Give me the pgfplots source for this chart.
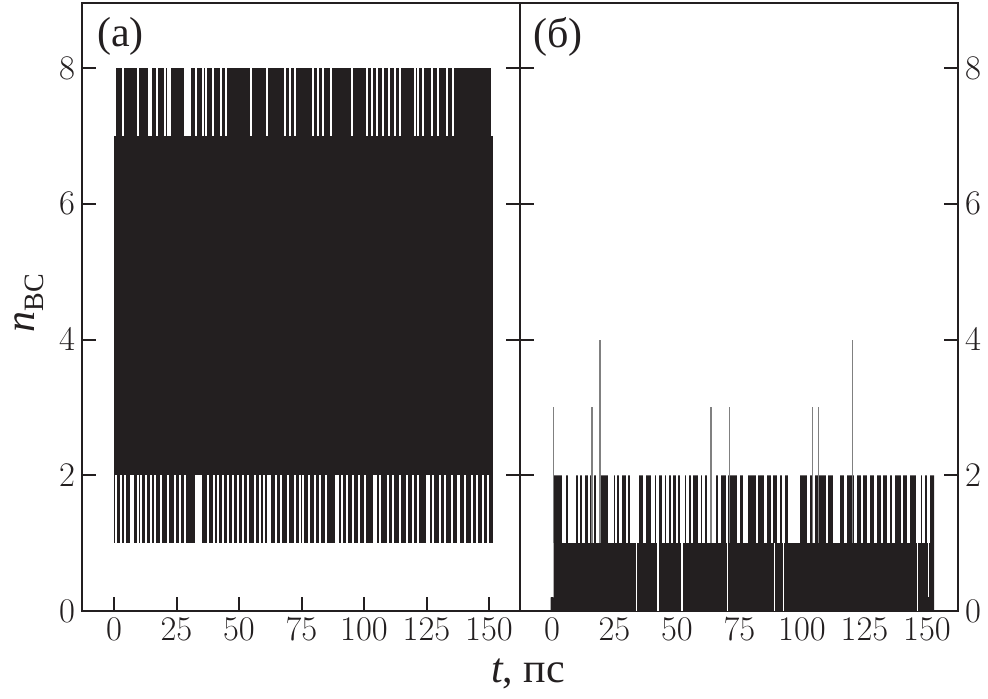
\documentclass[border=0pt]{standalone}
\usepackage{pgfplots}
\pgfplotsset{compat=1.18}
\usepackage{fontspec}
\setmainfont{Liberation Serif}
\definecolor{ink}{RGB}{35,31,32}
\pgfplotsset{
 panel/.style={
  scale only axis, width=219pt, height=304pt,
  xmin=-12.8, xmax=162.4, ymin=0, ymax=8.96,
  xtick={0,25,50,75,100,125,150}, ytick={0,2,4,6,8},
  xtick pos=left, ytick pos=both,
  tick align=inside, major tick length=7pt,
  axis line style={line width=1pt, draw=ink},
  every tick/.style={line width=1pt, draw=ink},
  tick label style={font=\fontsize{18}{20}\selectfont, text=ink},
 },
 gap/.style n args={2}{draw=none, mark=none,
  error bars/.cd, y dir=both, y fixed=#1, error mark=none,
  error bar style={draw=white, line width=#2, solid}},
 spike/.style n args={1}{draw=none, mark=none,
  error bars/.cd, y dir=both, y fixed=#1, error mark=none,
  error bar style={draw=gray, line width=0.6pt, solid}},
}
\begin{document}
\begin{tikzpicture}
\begin{axis}[panel, name=a, yticklabel pos=left]
 % band of n_BC values (dense oscillation between 1 and 8)
 \addplot[fill=ink, draw=none] coordinates {(0,1)(151.6,1)(151.6,8)(0,8)};
 % times at which n_BC does not reach 8
 \addplot[gap={0.5}{1pt}] coordinates {
  (0.5,7.5)(3.6,7.5)(9.6,7.5)(13.9,7.5)(14.7,7.5)(17.3,7.5)(20.3,7.5)(21.6,7.5)(22.5,7.5)
  (28.5,7.5)(29.0,7.5)(29.5,7.5)(30.0,7.5)(30.5,7.5)(32.9,7.5)(35.6,7.5)(36.9,7.5)(39.6,7.5)
  (42.9,7.5)(44.9,7.5)(54.9,7.5)(61.3,7.5)(68.3,7.5)(70.3,7.5)(72.3,7.5)(79.7,7.5)(81.7,7.5)
  (83.5,7.5)(86.7,7.5)(95.1,7.5)(101.1,7.5)(103.1,7.5)(105.1,7.5)(107.7,7.5)(110.1,7.5)
  (112.4,7.5)(114.4,7.5)(120.4,7.5)(121.7,7.5)(123.7,7.5)(127.1,7.5)(129.7,7.5)(133.1,7.5)
  (135.7,7.5)(151.1,7.5)};
 % times at which n_BC does not fall to 1
 \addplot[gap={0.5}{1pt}] coordinates {
  (0.9,1.5)(2.9,1.5)(4.5,1.5)(6.8,1.5)(7.4,1.5)(9.6,1.5)(10.9,1.5)(12.9,1.5)(14.7,1.5)
  (16.3,1.5)(18.9,1.5)(21.6,1.5)(24.3,1.5)(26.3,1.5)(28.3,1.5)(32.8,1.5)(33.4,1.5)(34.0,1.5)
  (34.6,1.5)(37.6,1.5)(40.0,1.5)(41.6,1.5)(43.6,1.5)(45.6,1.5)(47.6,1.5)(49.6,1.5)(51.6,1.5)
  (53.6,1.5)(56.3,1.5)(58.3,1.5)(60.0,1.5)(61.7,1.5)(62.3,1.5)(64.9,1.5)(66.9,1.5)(69.6,1.5)
  (72.3,1.5)(74.3,1.5)(75.7,1.5)(78.1,1.5)(80.4,1.5)(82.4,1.5)(84.8,1.5)(88.9,1.5)(89.6,1.5)
  (91.1,1.5)(93.1,1.5)(95.7,1.5)(98.1,1.5)(100.4,1.5)(104.0,1.5)(104.7,1.5)(106.4,1.5)
  (109.7,1.5)(111.7,1.5)(114.4,1.5)(117.1,1.5)(119.7,1.5)(121.7,1.5)(125.3,1.5)(126.0,1.5)
  (127.7,1.5)(130.4,1.5)(132.4,1.5)(135.1,1.5)(137.4,1.5)(138.0,1.5)(140.4,1.5)(143.1,1.5)
  (145.1,1.5)(147.7,1.5)(149.7,1.5)};
 \node[anchor=north west, inner sep=0pt, font=\fontsize{21}{24}\selectfont, text=ink]
   at (rel axis cs:0.034,0.977) {(a)};
\end{axis}
\begin{axis}[panel, at={(a.south east)}, anchor=south west, yticklabel pos=right]
 \addplot[fill=ink, draw=none] coordinates {(-0.6,0)(-0.6,0.2)(0.6,0.2)(0.6,2)(152.8,2)(152.8,0)};
 % times at which n_BC is below 2
 \addplot[gap={0.5}{1.3pt}] coordinates {
  (4.4,1.5)(5.0,1.5)(6.8,1.5)(7.4,1.5)(8.0,1.5)(8.6,1.5)(9.2,1.5)(10.8,1.5)(12.7,1.5)
  (14.8,1.5)(16.3,1.5)(18.3,1.5)(23.1,1.5)(23.7,1.5)(24.3,1.5)(25.6,1.5)(27.3,1.5)(30.0,1.5)
  (31.7,1.5)(32.3,1.5)(33.4,1.5)(34.1,1.5)(36.9,1.5)(40.1,1.5)(40.7,1.5)(42.3,1.5)(44.6,1.5)
  (46.3,1.5)(48.0,1.5)(50.0,1.5)(51.8,1.5)(52.5,1.5)(54.3,1.5)(56.0,1.5)(59.1,1.5)(60.7,1.5)
  (62.5,1.5)(64.2,1.5)(64.9,1.5)(66.9,1.5)(70.0,1.5)(74.7,1.5)(76.9,1.5)(78.0,1.5)(82.0,1.5)
  (85.3,1.5)(88.0,1.5)(90.7,1.5)(92.7,1.5)(94.9,1.5)(95.5,1.5)(96.1,1.5)(96.7,1.5)(97.3,1.5)
  (97.9,1.5)(98.5,1.5)(102.7,1.5)(104.7,1.5)(110.0,1.5)(112.9,1.5)(113.5,1.5)(114.1,1.5)
  (114.7,1.5)(117.3,1.5)(121.3,1.5)(124.0,1.5)(126.7,1.5)(129.3,1.5)(132.0,1.5)(134.7,1.5)
  (136.7,1.5)(140.0,1.5)(142.7,1.5)(146.2,1.5)(146.9,1.5)(148.7,1.5)(150.7,1.5)};
 % times at which n_BC falls to 0
 \addplot[gap={0.5}{0.7pt}] coordinates {
  (33.7,0.5)(42.4,0.5)(52.0,0.5)(70.3,0.5)(88.9,0.5)(92.7,0.5)(146.2,0.5)};
 \addplot[gap={0.4}{0.7pt}] coordinates {(150.7,0.6)};
 % rare peaks to 3 and 4
 \addplot[spike={1}] coordinates {(0.7,2)(16.0,2)(63.6,2)(70.9,2)(104.3,2)(106.7,2)};
 \addplot[spike={1.5}] coordinates {(19.2,2.5)(120.3,2.5)};
 \node[anchor=north west, inner sep=0pt, font=\fontsize{21}{24}\selectfont, text=ink]
   at (rel axis cs:0.03,0.977) {(б)};
\end{axis}
\node[anchor=base, font=\fontsize{21}{24}\selectfont, text=ink]
  at ([xshift=4pt, yshift=-36pt]a.south east) {\textit{t}, пс};
\node[rotate=90, anchor=center, font=\fontsize{21}{24}\selectfont, text=ink]
  at ([xshift=-26.5pt, yshift=2pt]a.west) {\textit{n}\raisebox{-0.22em}{\fontsize{14}{14}\selectfont ВС}};
\pgfresetboundingbox
\path[use as bounding box] ([xshift=-41pt, yshift=-44pt]a.south west) rectangle ++(494pt,349.5pt);
\end{tikzpicture}
\end{document}
